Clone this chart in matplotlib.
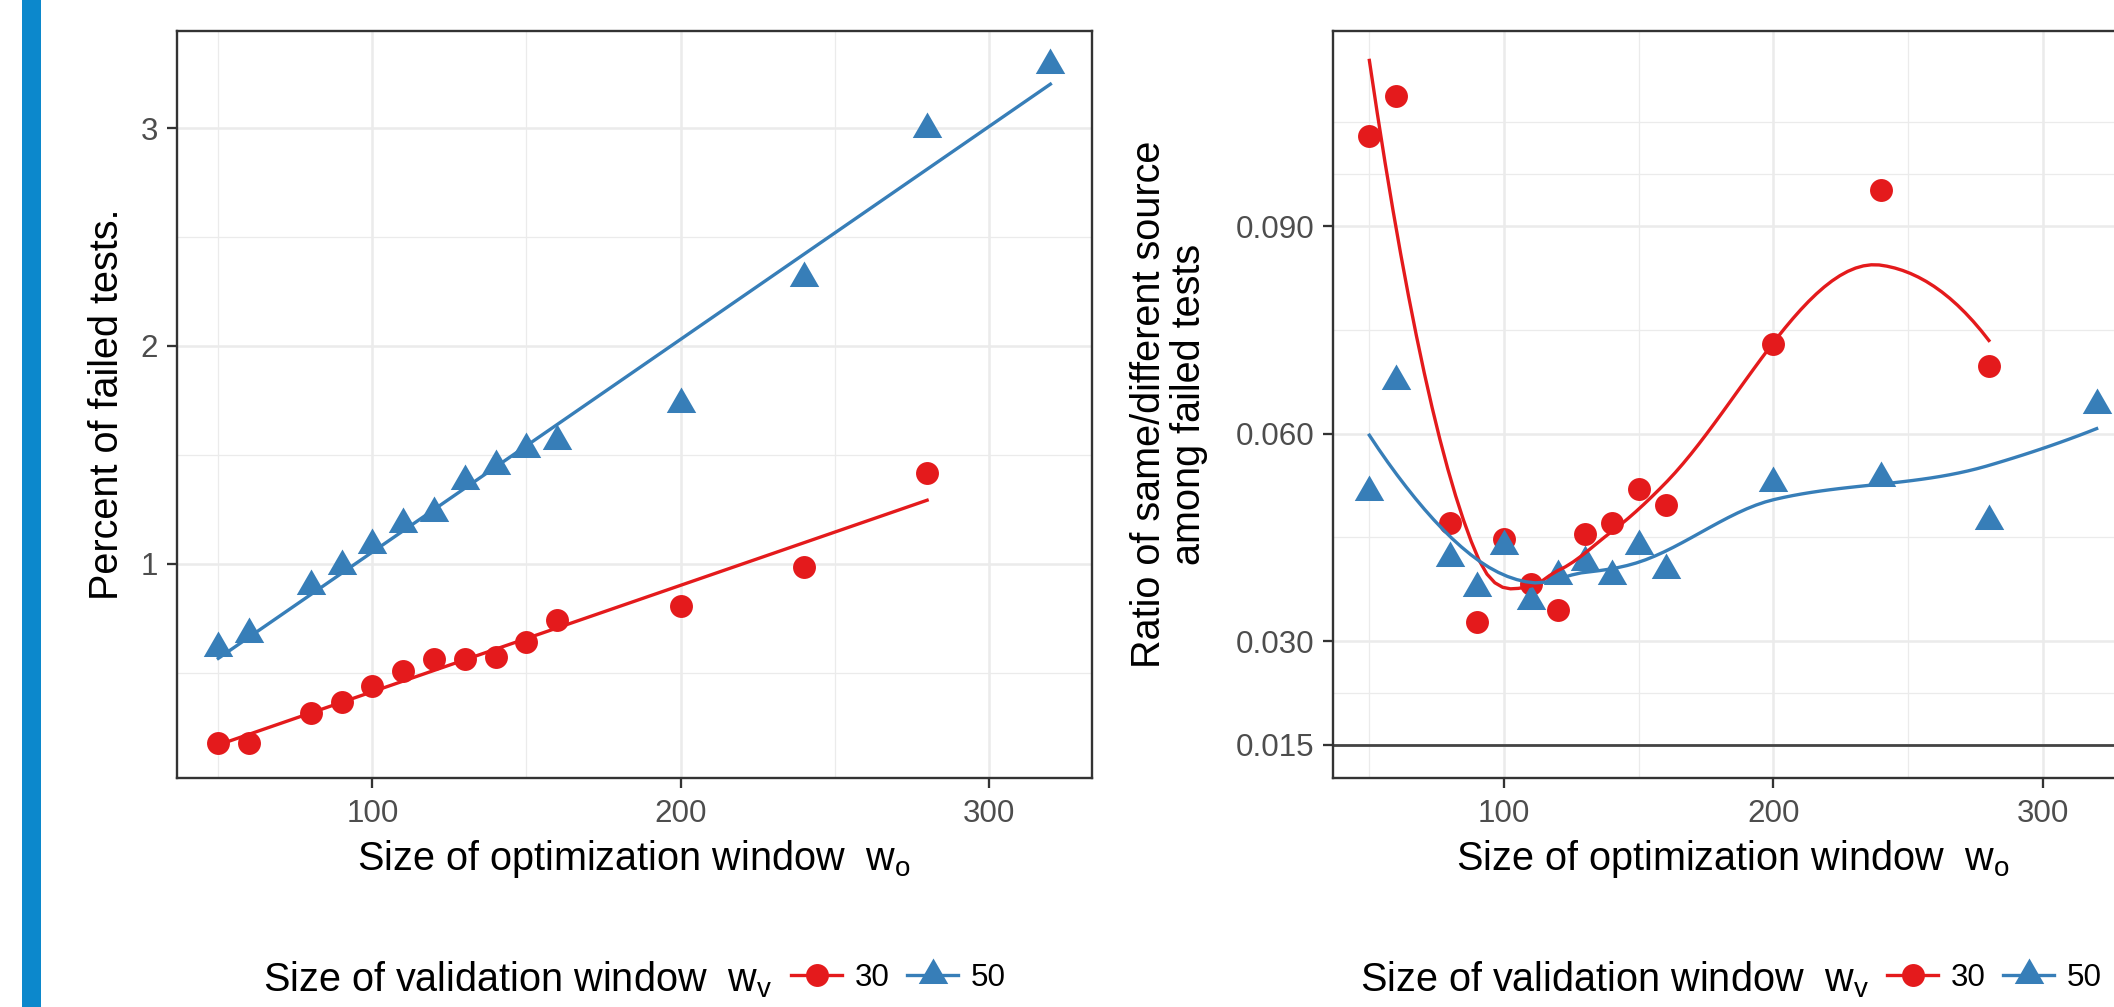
import numpy as np
import matplotlib
matplotlib.use("Agg")
import matplotlib.pyplot as plt
from matplotlib.lines import Line2D
from matplotlib.patches import Rectangle

# ---------------- data ----------------
wo_30 = [50, 60, 80, 90, 100, 110, 120, 130, 140, 150, 160, 200, 240, 280]
wo_50 = [50, 60, 80, 90, 100, 110, 120, 130, 140, 150, 160, 200, 240, 280, 320]

pct_failed_30 = [0.175, 0.178, 0.313, 0.366, 0.438, 0.509, 0.561, 0.562, 0.573,
                 0.639, 0.741, 0.808, 0.984, 1.415]
pct_failed_50 = [0.615, 0.677, 0.897, 0.990, 1.085, 1.180, 1.233, 1.379, 1.448,
                 1.527, 1.565, 1.735, 2.311, 2.998, 3.290]

ratio_30 = [0.1031, 0.1089, 0.0471, 0.0327, 0.0447, 0.0383, 0.0345, 0.0455,
            0.0471, 0.0520, 0.0497, 0.0730, 0.0952, 0.0698]
ratio_50 = [0.0516, 0.0676, 0.0420, 0.0377, 0.0437, 0.0358, 0.0394, 0.0414,
            0.0394, 0.0438, 0.0403, 0.0529, 0.0536, 0.0474, 0.0641]

wv_labels = ["30", "50"]
ref_line = 0.015

left_yticks = [1, 2, 3]
right_yticks = [0.015, 0.030, 0.060, 0.090]
right_yticklabels = ["0.015", "0.030", "0.060", "0.090"]
xticks = [100, 200, 300]

# ---------------- style ----------------
W, H = 2114, 1007
RED = "#E41A1C"
BLUE = "#377EB8"
plt.rcParams["font.family"] = ["Liberation Sans", "DejaVu Sans"]
plt.rcParams["mathtext.fontset"] = "custom"
plt.rcParams["mathtext.rm"] = "Liberation Sans"
plt.rcParams["mathtext.it"] = "Liberation Sans:italic"
plt.rcParams["mathtext.bf"] = "Liberation Sans:bold"

TITLE_FS = 28.5
TICK_FS = 22.6
tri = [(0, 1), (-0.866, -0.5), (0.866, -0.5), (0, 1)]
CIRC_MS = 16.5
TRI_MS = 24.5
LW = 2.4


# ---- loess (as R: local quadratic, tricube, span .75, kd-vertex hermite interpolation)
def _local_fit(x, y, x0, q):
    d = np.abs(x - x0)
    h = np.sort(d)[q - 1]
    u = np.clip(d / h, 0, 1)
    w = (1 - u ** 3) ** 3
    X = np.vander(x - x0, 3)
    sw = np.sqrt(w)
    beta = np.linalg.lstsq(X * sw[:, None], y * sw, rcond=None)[0]
    return beta[2], beta[1]


def _kd_vertices(xs_sorted, fc):
    verts = []

    def split(lo, hi):
        if hi - lo + 1 <= fc:
            return
        m = (lo + hi) // 2
        verts.append(xs_sorted[m - 1])
        split(lo, m)
        split(m + 1, hi)

    split(1, len(xs_sorted))
    return verts


def loess(x, y, xs, span=0.75, cell=0.2):
    x = np.asarray(x, float)
    y = np.asarray(y, float)
    n = len(x)
    q = int(np.floor(n * span))
    fc = int(np.floor(n * span * cell))
    xsorted = np.sort(x)
    margin = 0.005 * (xsorted[-1] - xsorted[0])
    v = sorted(set([xsorted[0] - margin, xsorted[-1] + margin] + _kd_vertices(list(xsorted), fc)))
    v = np.array(v)
    fv = np.array([_local_fit(x, y, vi, q) for vi in v])
    out = []
    for x0 in xs:
        i = min(max(np.searchsorted(v, x0) - 1, 0), len(v) - 2)
        a, b = v[i], v[i + 1]
        hh = b - a
        t = (x0 - a) / hh
        h00 = 2 * t ** 3 - 3 * t ** 2 + 1
        h10 = t ** 3 - 2 * t ** 2 + t
        h01 = -2 * t ** 3 + 3 * t ** 2
        h11 = t ** 3 - t ** 2
        out.append(h00 * fv[i, 0] + h10 * hh * fv[i, 1] + h01 * fv[i + 1, 0] + h11 * hh * fv[i + 1, 1])
    return np.array(out)


fig = plt.figure(figsize=(W / 100, H / 100), dpi=100)
fig.add_artist(Rectangle((22 / W, 0), 19 / W, 1, transform=fig.transFigure,
                         color="#0C88CC", lw=0, zorder=0))

top_px, bot_px = 30.5, 778
ax1 = fig.add_axes([176.7 / W, 1 - bot_px / H, (1092 - 176.7) / W, (bot_px - top_px) / H])
ax2 = fig.add_axes([1333 / W, 1 - bot_px / H, (2133 - 1333) / W, (bot_px - top_px) / H])


def style_axes(ax):
    ax.set_facecolor("white")
    for s in ax.spines.values():
        s.set_color("#333333")
        s.set_linewidth(1.7)
        s.set_zorder(5)
    ax.tick_params(axis="both", which="major", length=7.4, width=1.65,
                   color="#333333", labelcolor="#4D4D4D", labelsize=TICK_FS)
    ax.tick_params(axis="x", pad=7.5)
    ax.tick_params(axis="y", pad=6)
    ax.tick_params(which="minor", length=0)
    ax.grid(True, which="major", color="#EBEBEB", lw=1.8, zorder=0)
    ax.grid(True, which="minor", color="#EBEBEB", lw=0.9, zorder=0)
    ax.set_axisbelow(True)
    ax.set_xlim(36.5, 333.5)
    ax.set_xticks(xticks)
    ax.set_xticks([50, 150, 250], minor=True)


xs30 = np.linspace(min(wo_30), max(wo_30), 80)
xs50 = np.linspace(min(wo_50), max(wo_50), 80)

# ---- left panel ----
style_axes(ax1)
ax1.set_ylim(0.016, 3.448)
ax1.set_yticks(left_yticks)
ax1.set_yticklabels([str(v) for v in left_yticks])
ax1.set_yticks([0.5, 1.5, 2.5], minor=True)
ax1.set_xticklabels([str(v) for v in xticks])
ax1.plot(wo_30, pct_failed_30, ls="none", marker="o", ms=CIRC_MS, mew=0, color=RED, zorder=3)
ax1.plot(wo_50, pct_failed_50, ls="none", marker=tri, ms=TRI_MS, mew=0, color=BLUE, zorder=3)
p30 = np.polyfit(wo_30, pct_failed_30, 1)
p50 = np.polyfit(wo_50, pct_failed_50, 1)
ax1.plot(xs30, np.polyval(p30, xs30), color=RED, lw=LW, zorder=4)
ax1.plot(xs50, np.polyval(p50, xs50), color=BLUE, lw=LW, zorder=4)
ax1.set_ylabel("Percent of failed tests.", fontsize=TITLE_FS, color="black",
               va="center", rotation_mode="anchor")
ax1.yaxis.set_label_coords((107 - 176.7) / (1092 - 176.7), 0.5)

# ---- right panel ----
style_axes(ax2)
ax2.set_ylim(0.0102, 0.1183)
ax2.set_yticks(right_yticks)
ax2.set_yticklabels(right_yticklabels)
ax2.set_yticks([0.0225, 0.045, 0.075, 0.0975, 0.105], minor=True)
ax2.set_xticklabels([str(v) for v in xticks])
ax2.axhline(ref_line, color="#444444", lw=2.0, zorder=2)
ax2.plot(wo_30, ratio_30, ls="none", marker="o", ms=CIRC_MS, mew=0, color=RED, zorder=3)
ax2.plot(wo_50, ratio_50, ls="none", marker=tri, ms=TRI_MS, mew=0, color=BLUE, zorder=3)
ax2.plot(xs30, loess(wo_30, ratio_30, xs30), color=RED, lw=LW, zorder=4)
ax2.plot(xs50, loess(wo_50, ratio_50, xs50), color=BLUE, lw=LW, zorder=4)
ax2.set_ylabel("Ratio of same/different source\namong failed tests", fontsize=TITLE_FS,
               color="black", va="center", rotation_mode="anchor", linespacing=1.05)
ax2.yaxis.set_label_coords((1169 - 1333) / 800, 0.5)

for ax in (ax1, ax2):
    ax.set_xlabel(r"Size of optimization window  $\mathrm{w}_{\mathrm{o}}$",
                  fontsize=TITLE_FS, color="black", va="baseline")
    ax.xaxis.set_label_coords(0.5, (bot_px - 870) / (bot_px - top_px))

# ---- legends ----
handles = [Line2D([], [], color=RED, lw=LW, marker="o", ms=CIRC_MS, mew=0),
           Line2D([], [], color=BLUE, lw=LW, marker=tri, ms=TRI_MS, mew=0)]
leg_fs_px = TICK_FS / 72 * 100
for title_x, key_x in ((263, 791), (1359.5, 1887.4)):
    fig.text(title_x / W, 1 - 991 / H, r"Size of validation window  $\mathrm{w}_{\mathrm{v}}$",
             fontsize=TITLE_FS, ha="left", va="baseline")
    fig.legend(handles, wv_labels, loc="center left",
               bbox_to_anchor=(key_x / W, 1 - 978 / H), ncol=2, frameon=False,
               fontsize=TICK_FS, borderpad=0, borderaxespad=0,
               handlelength=51 / leg_fs_px, handletextpad=12.6 / leg_fs_px,
               columnspacing=17.6 / leg_fs_px)

fig.savefig("out.png", dpi=100, facecolor="white")
